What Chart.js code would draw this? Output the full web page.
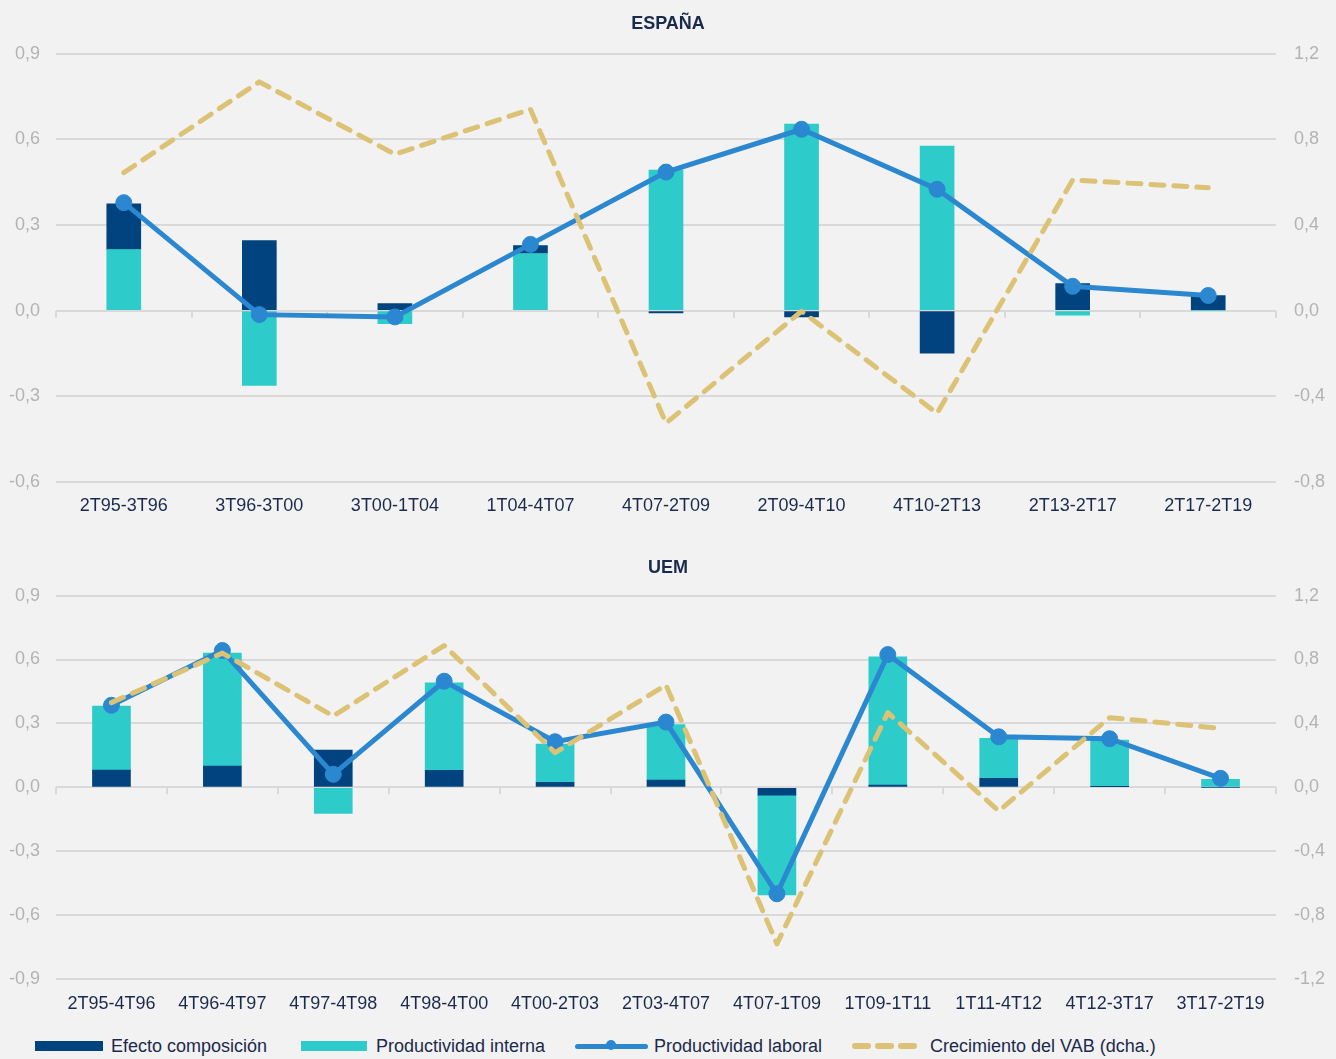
<!DOCTYPE html>
<html>
<head>
<meta charset="utf-8">
<script src="https://cdn.jsdelivr.net/npm/chart.js@4.4.1/dist/chart.umd.min.js"></script>
<style>
  body { margin: 0; background: #f2f2f2; width: 1336px; height: 1059px; overflow: hidden;
         font-family: "Liberation Sans", Arial, sans-serif; }
  .box { position: absolute; left: 0; width: 1336px; }
  #boxEsp { top: 0; height: 520px; }
  #boxUem { top: 540px; height: 480px; }
  .lg { position: absolute; }
  .lgText { position: absolute; top: 1035px; font-size: 18px; line-height: 22px; color: #1b2a4c; white-space: nowrap; }
</style>
</head>
<body>
<div class="box" id="boxEsp"><canvas id="chartEsp"></canvas></div>
<div class="box" id="boxUem"><canvas id="chartUem"></canvas></div>
<div id="legend"></div>
<script>
// --- data ---
const espLabels = ['2T95-3T96', '3T96-3T00', '3T00-1T04', '1T04-4T07', '4T07-2T09',
                   '2T09-4T10', '4T10-2T13', '2T13-2T17', '2T17-2T19'];
const espComposicion = [0.16, 0.245, 0.025, 0.028, -0.008, -0.022, -0.149, 0.095, 0.053];
const espInterna = [0.214, -0.262, -0.046, 0.20, 0.492, 0.653, 0.576, -0.016, 0.0];
const espLaboral = [0.378, -0.014, -0.022, 0.232, 0.485, 0.635, 0.425, 0.085, 0.053];
const espVab = [0.644, 1.068, 0.73, 0.94, -0.525, -0.003, -0.479, 0.61, 0.574];

const uemLabels = ['2T95-4T96', '4T96-4T97', '4T97-4T98', '4T98-4T00', '4T00-2T03', '2T03-4T07',
                   '4T07-1T09', '1T09-1T11', '1T11-4T12', '4T12-3T17', '3T17-2T19'];
const uemComposicion = [0.081, 0.10, 0.175, 0.08, 0.023, 0.034, -0.037, 0.01, 0.042, 0.003, 0.0];
const uemInterna = [0.30, 0.53, -0.123, 0.41, 0.18, 0.26, -0.468, 0.603, 0.188, 0.219, 0.0375];
const uemLaboral = [0.385, 0.642, 0.061, 0.498, 0.214, 0.306, -0.50, 0.623, 0.237, 0.228, 0.042];
const uemVab = [0.53, 0.84, 0.446, 0.8875, 0.217, 0.64, -0.98, 0.467, -0.148, 0.436, 0.369];

const espLeftTicks = [-0.6, -0.3, 0, 0.3, 0.6, 0.9];
const espRightTicks = [-0.8, -0.4, 0, 0.4, 0.8, 1.2];
const uemLeftTicks = [-0.9, -0.6, -0.3, 0, 0.3, 0.6, 0.9];
const uemRightTicks = [-1.2, -0.8, -0.4, 0, 0.4, 0.8, 1.2];

const seriesNames = ['Efecto composición', 'Productividad interna', 'Productividad laboral', 'Crecimiento del VAB (dcha.)'];

// colours
const NAVY = '#00437f';
const TURQ = '#2ecbcb';
const BLUE = '#2b88d0';
const TAN = '#dcc275';
const GRID = '#d9d9d9';

Chart.defaults.font.family = '"Liberation Sans", Arial, sans-serif';

const fmt = v => v.toFixed(1).replace('.', ',');

// small tick marks on the zero line between categories
const zeroTicks = {
    id: 'zeroTicks',
    beforeDatasetsDraw(chart) {
        const { ctx, scales: { x, y } } = chart;
        const y0 = y.getPixelForValue(0);
        ctx.save();
        ctx.strokeStyle = GRID;
        ctx.lineWidth = 2;
        ctx.beginPath();
        for (let i = 0; i <= chart.data.labels.length; i++) {
            const px = Math.round(x.getPixelForValue(i - 0.5));
            ctx.moveTo(px, y0);
            ctx.lineTo(px, y0 + 7);
        }
        ctx.stroke();
        ctx.restore();
    }
};

function makeChart(id, o) {
    const bars = [
        { type: 'bar', label: seriesNames[0], data: o.comp, backgroundColor: NAVY,
          yAxisID: 'y', stack: 'bars', order: o.compFirst ? 2 : 3, barThickness: o.barW },
        { type: 'bar', label: seriesNames[1], data: o.interna, backgroundColor: TURQ,
          yAxisID: 'y', stack: 'bars', order: o.compFirst ? 3 : 2, barThickness: o.barW }
    ];
    return new Chart(document.getElementById(id), {
        data: {
            labels: o.labels,
            datasets: [
                ...bars,
                { type: 'line', label: seriesNames[2], data: o.laboral, borderColor: BLUE,
                  backgroundColor: BLUE, borderWidth: 5, pointRadius: 8, pointBorderWidth: 1,
                  pointBackgroundColor: BLUE, pointBorderColor: BLUE, yAxisID: 'y',
                  stack: 'lab', order: 1, tension: 0 },
                { type: 'line', label: seriesNames[3], data: o.vab, borderColor: TAN,
                  borderWidth: 5, borderDash: [13, 10], borderCapStyle: 'round',
                  borderJoinStyle: 'round', pointRadius: 0, yAxisID: 'y1',
                  stack: 'vab', order: 0, tension: 0 }
            ]
        },
        options: {
            responsive: true,
            maintainAspectRatio: false,
            animation: false,
            layout: { padding: 0 },
            plugins: {
                legend: { display: false },
                tooltip: { enabled: false },
                title: {
                    display: true, text: o.title, color: '#1b2a4c',
                    font: { size: 18, weight: 'bold' },
                    padding: o.titlePad
                }
            },
            scales: {
                x: {
                    stacked: true,
                    grid: { display: false },
                    border: { display: false },
                    ticks: { color: '#1b2a4c', font: { size: 18 }, padding: o.xPad,
                             maxRotation: 0, autoSkip: false },
                    afterFit: s => { s.height = o.xH; }
                },
                y: {
                    position: 'left', stacked: true,
                    min: o.left[0], max: o.left[o.left.length - 1],
                    afterBuildTicks: s => { s.ticks = o.left.map(v => ({ value: v })); },
                    grid: { color: GRID, lineWidth: 2, drawTicks: false },
                    border: { display: false },
                    ticks: { color: '#b3b3b3', font: { size: 18 }, padding: 16, callback: fmt },
                    afterFit: s => { s.width = 56; }
                },
                y1: {
                    position: 'right',
                    min: o.right[0], max: o.right[o.right.length - 1],
                    afterBuildTicks: s => { s.ticks = o.right.map(v => ({ value: v })); },
                    grid: { display: false, drawTicks: false },
                    border: { display: false },
                    ticks: { color: '#b3b3b3', font: { size: 18 }, padding: 18, callback: fmt },
                    afterFit: s => { s.width = 60; }
                }
            }
        },
        plugins: [zeroTicks]
    });
}

makeChart('chartEsp', {
    title: 'ESPAÑA', labels: espLabels, comp: espComposicion, interna: espInterna,
    laboral: espLaboral, vab: espVab, left: espLeftTicks, right: espRightTicks,
    compFirst: false, barW: 34, titlePad: { top: 13, bottom: 19 }, xH: 38, xPad: 5
});

makeChart('chartUem', {
    title: 'UEM', labels: uemLabels, comp: uemComposicion, interna: uemInterna,
    laboral: uemLaboral, vab: uemVab, left: uemLeftTicks, right: uemRightTicks,
    compFirst: true, barW: 38, titlePad: { top: 17, bottom: 17 }, xH: 41, xPad: 6
});

// --- shared legend under both charts ---
const legend = document.getElementById('legend');
function add(html) { legend.insertAdjacentHTML('beforeend', html); }
add(`<div class="lg" style="left:35px;top:1041px;width:68px;height:10px;background:${NAVY}"></div>`);
add(`<div class="lgText" style="left:111px">${seriesNames[0]}</div>`);
add(`<div class="lg" style="left:301px;top:1041px;width:66px;height:10px;background:${TURQ}"></div>`);
add(`<div class="lgText" style="left:376px">${seriesNames[1]}</div>`);
add(`<div class="lg" style="left:575px;top:1044px;width:73px;height:5px;border-radius:3px;background:${BLUE}"></div>`);
add(`<div class="lg" style="left:606px;top:1040px;width:10px;height:10px;border-radius:5px;background:${BLUE}"></div>`);
add(`<div class="lgText" style="left:654px">${seriesNames[2]}</div>`);
[852, 875, 898].forEach(x => {
    add(`<div class="lg" style="left:${x}px;top:1043px;width:19px;height:6px;border-radius:3px;background:${TAN}"></div>`);
});
add(`<div class="lgText" style="left:930px">${seriesNames[3]}</div>`);
</script>
</body>
</html>
